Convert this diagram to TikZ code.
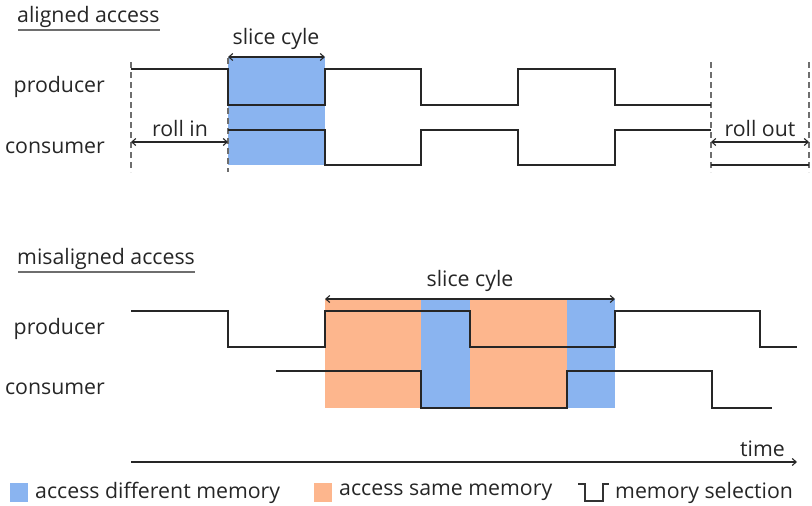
\documentclass[tikz,border=0pt]{standalone}
\usepackage{fontspec}
\setmainfont{Open Sans}
\usetikzlibrary{arrows.meta}
\definecolor{diffmem}{RGB}{138,180,240}
\definecolor{samemem}{RGB}{253,182,141}
\definecolor{rulegray}{RGB}{110,110,110}
\begin{document}
\begin{tikzpicture}[x=1pt,y=-1pt,
  font=\fontsize{21.3}{25}\selectfont,
  txt/.style={inner sep=0pt, text=black!85},
  wave/.style={line width=1.4pt, black!85, line join=miter},
  guide/.style={dash pattern=on 6pt off 4pt, line width=1.4pt, rulegray},
  span/.style={{Straight Barb[length=4pt,width=7pt]}-{Straight Barb[length=4pt,width=7pt]}, line width=1.1pt, black!85},
  axis/.style={-{Straight Barb[length=4pt,width=7pt]}, line width=1.1pt, black!85},
  headline/.style={line width=1.4pt, rulegray},
  swatch/.style={inner sep=0pt, minimum width=18pt, minimum height=19pt}]
\useasboundingbox (0,0) rectangle (812,506);

% ---------- aligned access ----------
\node[txt, anchor=west] (alTitle) at (17,16.5) {aligned access};
\draw[headline] (18,30) -- (160,30);

\fill[diffmem] (228,57) rectangle (325,165);

\node[txt, anchor=east] (alProd) at (105,87) {producer};
\node[txt, anchor=east] (alCons) at (105,147.5) {consumer};

\draw[guide] (131,62) -- (131,172);
\draw[guide] (228,58) -- (228,172);
\draw[guide] (711,62) -- (711,172);
\draw[guide] (809,62) -- (809,172);

\draw[wave] (131,69) -- (228,69) -- (228,105) -- (325,105) -- (325,69)
  -- (421,69) -- (421,105) -- (518,105) -- (518,69) -- (615,69)
  -- (615,105) -- (711,105);
\draw[wave] (228,130) -- (325,130) -- (325,165) -- (421,165) -- (421,130)
  -- (518,130) -- (518,165) -- (615,165) -- (615,130) -- (711,130);
\draw[wave] (711,165) -- (809,165);

\coordinate (alSliceA) at (228,57);
\coordinate (alSliceB) at (325,57);
\draw[span] (alSliceA) -- (alSliceB);
\node[txt] (alSlice) at (276,38.5) {slice cyle};

\coordinate (rollInA) at (131,142);
\coordinate (rollInB) at (228,142);
\draw[span] (rollInA) -- (rollInB);
\node[txt] (rollIn) at (180,128.5) {roll in};

\coordinate (rollOutA) at (711,142);
\coordinate (rollOutB) at (809,142);
\draw[span] (rollOutA) -- (rollOutB);
\node[txt] (rollOut) at (760,128.5) {roll out};

% ---------- misaligned access ----------
\node[txt, anchor=west] (miTitle) at (17,258.5) {misaligned access};
\draw[headline] (18,272) -- (195,272);

\fill[samemem] (325,299) rectangle (421,408);
\fill[diffmem] (421,299) rectangle (470,408);
\fill[samemem] (470,299) rectangle (567,408);
\fill[diffmem] (567,299) rectangle (615,408);

\node[txt, anchor=east] (miProd) at (105,328.5) {producer};
\node[txt, anchor=east] (miCons) at (105,388.5) {consumer};

\draw[wave] (131,311) -- (228,311) -- (228,347) -- (325,347) -- (325,311)
  -- (470,311) -- (470,347) -- (615,347) -- (615,311) -- (760,311)
  -- (760,347) -- (797,347);
\draw[wave] (276,371) -- (421,371) -- (421,408) -- (567,408) -- (567,371)
  -- (712,371) -- (712,408) -- (772,408);

\coordinate (miSliceA) at (325,299);
\coordinate (miSliceB) at (615,299);
\draw[span] (miSliceA) -- (miSliceB);
\node[txt] (miSlice) at (470,280.5) {slice cyle};

% ---------- time axis ----------
\coordinate (timeA) at (131,462);
\coordinate (timeB) at (797,462);
\draw[axis] (timeA) -- (timeB);
\node[txt, anchor=east] (timeLbl) at (785,448.5) {time};

% ---------- legend ----------
\node[swatch, fill=diffmem, anchor=north west] (keyDiff) at (10,483) {};
\node[txt, anchor=west] (keyDiffLbl) at (35,492.5) {access different memory};
\node[swatch, fill=samemem, anchor=north west] (keySame) at (314,483) {};
\node[txt, anchor=west] (keySameLbl) at (339,492.5) {access same memory};
\draw[line width=1.3pt, black!80] (578,484) -- (585,484) -- (585,501)
  -- (603,501) -- (603,484) -- (609,484);
\node[txt, anchor=west] (keySelLbl) at (615,492.5) {memory selection};
\end{tikzpicture}
\end{document}
